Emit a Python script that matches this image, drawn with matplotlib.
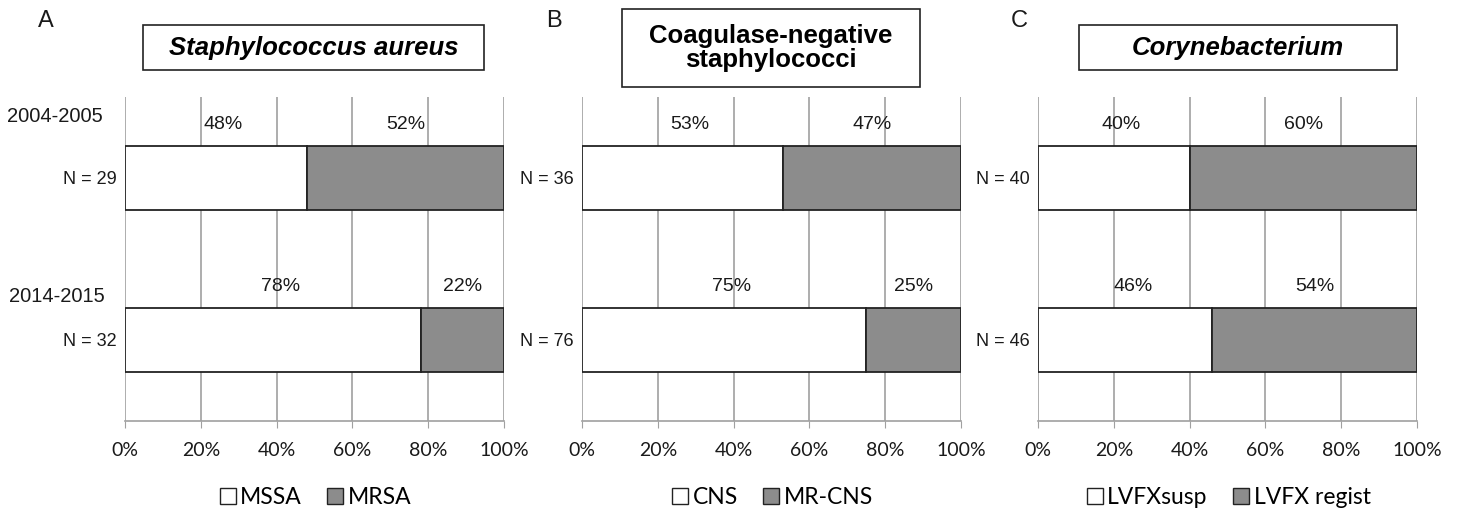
import matplotlib.pyplot as plt
from matplotlib.patches import Rectangle
from matplotlib.lines import Line2D

periods = ["2014-2015", "2004-2005"]  # bottom to top
ticks = [0, 20, 40, 60, 80, 100]

titles = ["Staphylococcus aureus", "Coagulase-negative\nstaphylococci", "Corynebacterium"]
title_style = ["italic", "normal", "italic"]
letters = ["A", "B", "C"]
legend_labels = [["MSSA", "MRSA"], ["CNS", "MR-CNS"], ["LVFXsusp", "LVFX regist"]]

# bottom row first (2014-2015), then 2004-2005
susc = [[78, 48], [75, 53], [46, 40]]
resist = [[22, 52], [25, 47], [54, 60]]
counts = [[32, 29], [76, 36], [46, 40]]

W, H = 1457, 512
fig = plt.figure(figsize=(W / 100, H / 100), dpi=100)

ax_left = [125, 582, 1038]
ax_w = 379
ax_top, ax_bot = 97, 421
boxes = [(143, 25, 484, 70), (622, 9, 920, 87), (1079, 25, 1397, 70)]
letter_x = [38, 546, 1011]
grey = "#8c8c8c"
gridc = "#a0a0a0"
txt = "#1a1a1a"

for i in range(3):
    ax = fig.add_axes([ax_left[i] / W, 1 - ax_bot / H, ax_w / W, (ax_bot - ax_top) / H])
    y = [0, 1]
    ax.barh(y, susc[i], height=0.4, color="white", edgecolor="#222222", linewidth=1.3, zorder=3)
    ax.barh(y, resist[i], left=susc[i], height=0.4, color=grey, edgecolor="#222222",
            linewidth=1.3, zorder=3)
    for j in range(2):
        ax.text(susc[i][j] / 2 + 2, y[j] + 0.33, f"{susc[i][j]}%", ha="center", va="center",
                fontsize=14, family="Liberation Sans", color=txt)
        ax.text(susc[i][j] + resist[i][j] / 2, y[j] + 0.33, f"{resist[i][j]}%", ha="center",
                va="center", fontsize=14, family="Liberation Sans", color=txt)
    ax.set_xlim(0, 100)
    ax.set_ylim(-0.5, 1.5)
    ax.set_xticks(ticks)
    ax.set_xticklabels([f"{t}%" for t in ticks], fontsize=14, family="Lato", color=txt)
    ax.set_yticks(y)
    ax.set_yticklabels([f"N = {c}" for c in counts[i]], fontsize=13, family="Liberation Sans",
                       color=txt)
    ax.tick_params(axis="y", length=0, pad=6)
    ax.tick_params(axis="x", length=5, color=gridc, pad=10)
    ax.grid(axis="x", color=gridc, linewidth=1.2, zorder=0)
    for s in ["top", "right", "left"]:
        ax.spines[s].set_visible(False)
    ax.spines["bottom"].set_color(gridc)
    ax.spines["bottom"].set_linewidth(1.2)

    handles = [Line2D([], [], marker="s", linestyle="", markersize=12, markerfacecolor=c,
                      markeredgecolor="#222222", markeredgewidth=1.0) for c in ["white", grey]]
    ax.legend(handles, legend_labels[i], loc="center", bbox_to_anchor=(0.5, -0.235), ncol=2,
              frameon=False, prop={"family": "Lato", "size": 16.5}, handletextpad=0.1,
              columnspacing=1.0, handlelength=0.9, borderpad=0)

    x0, y0, x1, y1 = boxes[i]
    fig.patches.append(Rectangle((x0 / W, 1 - y1 / H), (x1 - x0) / W, (y1 - y0) / H,
                                 transform=fig.transFigure, facecolor="white",
                                 edgecolor="#222222", linewidth=1.2))
    fig.text((x0 + x1) / 2 / W, 1 - (y0 + y1) / 2 / H, titles[i], ha="center", va="center",
             fontsize=18.5, fontweight="bold", style=title_style[i], family="Liberation Sans",
             linespacing=1.05)
    fig.text(letter_x[i] / W, 1 - 21 / H, letters[i], ha="left", va="center", fontsize=17,
             family="Liberation Sans", color=txt)

fig.text(7 / W, 1 - 116 / H, periods[1], ha="left", va="center", fontsize=14.5,
         family="Liberation Sans", color=txt)
fig.text(9 / W, 1 - 297 / H, periods[0], ha="left", va="center", fontsize=14.5,
         family="Liberation Sans", color=txt)

fig.savefig("out.png", dpi=100)
